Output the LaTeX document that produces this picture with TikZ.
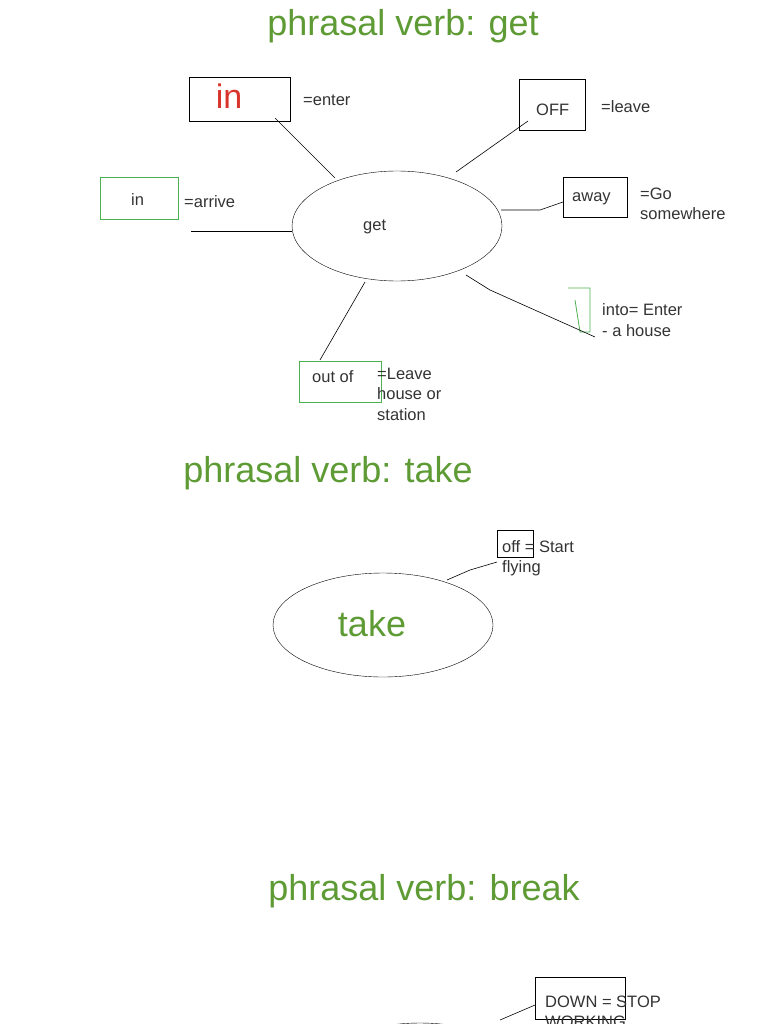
\documentclass[tikz,border=0pt]{standalone}
\usepackage{fontspec}
\usetikzlibrary{shapes.geometric}
\setmainfont{Liberation Sans}
\definecolor{tgreen}{HTML}{5E9B35}
\definecolor{bgreen}{HTML}{4CAF50}
\definecolor{tred}{HTML}{D9342B}
\begin{document}
\begin{tikzpicture}[x=1pt,y=-1pt,
  title/.style={text=tgreen,font=\fontsize{36}{38}\selectfont},
  lbl/.style={anchor=west,font=\fontsize{16.5}{20.5}\selectfont,text=black!80,align=left,inner sep=0pt},
  bbox/.style={draw,inner sep=0pt},
  gbox/.style={draw=bgreen,inner sep=0pt},
  ln/.style={draw,line width=0.6pt}]
\useasboundingbox (0,0) rectangle (768,1024);
\clip (0,0) rectangle (768,1024);
% get
\node[title] (t1) at (403,26) {phrasal verb: get};
\node[draw,ellipse,minimum width=210,minimum height=110,inner sep=0] (get) at (397,226) {};
\node[lbl] (getl) at (363,227) {get};
\node[bbox,minimum width=101,minimum height=44] (inb) at (239.5,99) {};
\node[text=tred,font=\fontsize{34}{36}\selectfont] (in1) at (229,96) {in};
\node[lbl] (enter) at (303,100) {=enter};
\draw[ln] (275,118) -- (335,178);
\node[bbox,minimum width=66,minimum height=51] (offb) at (552,104.5) {};
\node[lbl] (off) at (536,110) {OFF};
\node[lbl] (leave) at (601,107) {=leave};
\draw[ln] (528,121) -- (456,172);
\node[bbox,minimum width=64,minimum height=40] (awayb) at (595,197) {};
\node[lbl] (away) at (572,199) {away};
\node[lbl] (go) at (640,204) {=Go\\somewhere};
\draw[ln] (501,210) -- (540,210) -- (563,202);
\node[gbox,minimum width=78,minimum height=42] (inb2) at (139,198) {};
\node[lbl] (in2) at (131,200) {in};
\node[lbl] (arrive) at (184,202) {=arrive};
\draw[ln] (191,231) -- (292,231);
\draw[bgreen,line width=0.8pt] (568,288) -- (590,288) -- (590,332) -- (580,332) -- (575,300);
\node[lbl] (into) at (602,320) {into= Enter\\- a house};
\draw[ln] (466,275) -- (490,290) -- (595,337);
\node[gbox,minimum width=82,minimum height=41] (outb) at (340,381.5) {};
\node[lbl] (outof) at (312,377) {out of};
\node[lbl] (lh) at (377,394) {=Leave\\house or\\station};
\draw[ln] (365,282) -- (320,360);
% take
\node[title] (t2) at (328,473) {phrasal verb: take};
\node[draw,ellipse,minimum width=220,minimum height=104,inner sep=0] (take) at (383,625) {};
\node[text=tgreen,font=\fontsize{36}{38}\selectfont] (takel) at (372,624) {take};
\node[bbox,minimum width=36,minimum height=27] (offb2) at (515,543.5) {};
\node[lbl] (off2) at (502,558) {off = Start\\flying};
\draw[ln] (447,580) -- (470,570) -- (497,562);
% break
\node[title] (t3) at (424,891) {phrasal verb: break};
\node[bbox,minimum width=90,minimum height=42] (downb) at (580,998) {};
\node[lbl] (down) at (545,1012) {DOWN = STOP\\WORKING};
\draw[ln] (500,1020) -- (535,1005);
\node[draw,ellipse,minimum width=210,minimum height=100,inner sep=0] (brk) at (420,1073) {};
\end{tikzpicture}
\end{document}
